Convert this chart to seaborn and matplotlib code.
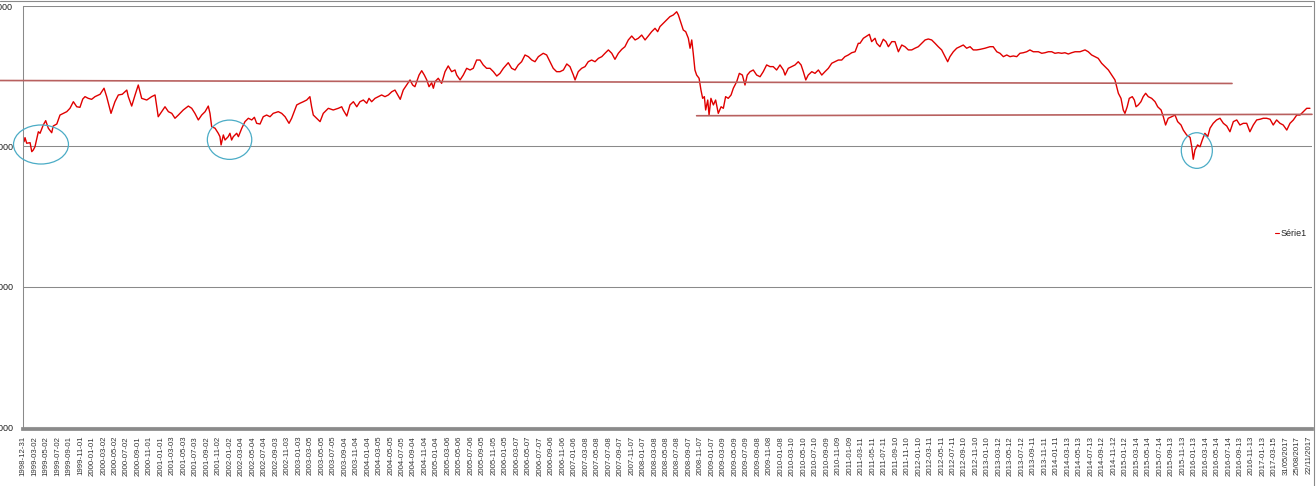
import matplotlib.pyplot as plt
import numpy as np
import seaborn as sns
import pandas as pd
from matplotlib.patches import Ellipse
from matplotlib.lines import Line2D

# category axis: one category per row of the sheet, a label every 61 rows
n_rows = 6848
tick_labels = list(pd.date_range('1998-12-31', periods=110, freq='61D').strftime('%Y-%m-%d'))
tick_labels += ['31/05/2017', '25/08/2017', '22/11/2017']
y_ticks = [1000, 2000, 3000, 4000]

# row index and value of the series
day_index = [
    4, 9, 18, 36, 45, 53, 62, 80, 89, 106, 119, 133, 151, 159, 178, 195, 213, 231, 248, 266,
    284, 301, 316, 328, 345, 363, 381, 408, 429, 443, 466, 487, 505, 526, 550, 558, 576, 594, 611, 629,
    656, 682, 700, 717, 735, 753, 771, 789, 806, 824, 850, 877, 895, 912, 930, 948, 966, 983, 992, 1001,
    1019, 1036,
    1045, 1051, 1063, 1072, 1089, 1098, 1107, 1116, 1134, 1143, 1161, 1178, 1196, 1214, 1228, 1240, 1258, 1275, 1293, 1311,
    1328, 1355, 1373, 1391, 1412, 1426, 1453, 1470, 1488, 1506, 1523, 1532, 1541, 1559, 1577, 1594, 1621, 1647, 1674, 1692,
    1700, 1719, 1736, 1754, 1772, 1789, 1807, 1825, 1837, 1851, 1869, 1886, 1904, 1922, 1940, 1958, 1975, 1990, 2003, 2019,
    2037, 2055, 2069, 2081, 2094, 2103, 2117, 2131, 2144, 2156, 2170, 2179,
    2188, 2205, 2223, 2241, 2258, 2276, 2294, 2303, 2321, 2338, 2356, 2374, 2391, 2409, 2427, 2444, 2462, 2480, 2498, 2516,
    2533, 2551, 2577, 2595, 2613, 2630, 2648, 2666, 2684, 2702, 2719, 2737, 2763, 2781, 2799, 2816, 2834, 2852, 2870, 2888,
    2905, 2923, 2932, 2949, 2967, 2985, 3002, 3020, 3038, 3056, 3074, 3091, 3109, 3127, 3144, 3162, 3180, 3197, 3215, 3233,
    3251, 3268, 3286, 3304, 3321,
    3339, 3357, 3371, 3383, 3401, 3419, 3436, 3454, 3472, 3481, 3495, 3507, 3520, 3534, 3543, 3552, 3560, 3569, 3578, 3591,
    3601, 3610, 3619, 3626, 3637, 3644, 3654, 3667, 3679, 3693, 3708, 3720, 3732, 3746, 3761, 3773, 3791, 3805, 3821, 3835,
    3847, 3862, 3879, 3897, 3915, 3932, 3950, 3968, 3985, 4003, 4021, 4039, 4048, 4065, 4083, 4101, 4118, 4133, 4145, 4158,
    4171, 4190, 4207, 4225, 4243, 4260, 4278, 4296, 4313, 4331, 4349, 4366, 4384, 4402, 4420, 4437,
    4446, 4464, 4482, 4496, 4508, 4526, 4535, 4552, 4570, 4584, 4597, 4615, 4632, 4650, 4668, 4685, 4703, 4721, 4738, 4756,
    4774, 4792, 4809, 4827, 4845, 4862, 4880, 4898, 4912, 4924, 4942, 4960, 4977, 4995, 5013, 5031, 5048, 5066, 5084, 5110,
    5137, 5154, 5173, 5190, 5208, 5226, 5243, 5261, 5279, 5296, 5314, 5332, 5349, 5367, 5394, 5412, 5429, 5447, 5465, 5482,
    5500, 5518, 5535, 5553, 5571, 5589, 5606,
    5615, 5642, 5659, 5677, 5695, 5712, 5730, 5748, 5766, 5784, 5801, 5810, 5819, 5833, 5845, 5854, 5866, 5877, 5893, 5904,
    5913, 5925, 5939, 5951, 5964, 5978, 5996, 6014, 6028, 6046, 6058, 6070, 6084, 6102, 6120, 6134, 6152, 6164, 6182, 6200,
    6209, 6217, 6226, 6240, 6253, 6265, 6279, 6294, 6306, 6323, 6341, 6359, 6377, 6395, 6412, 6430, 6448, 6465, 6483, 6501,
    6518, 6536, 6554, 6572, 6589, 6607, 6625, 6642, 6660, 6678, 6695, 6714, 6731, 6749, 6767, 6784, 6802, 6820, 6837,
]
serie1 = [
    3033, 3062, 3022, 3026, 2962, 2974, 2997, 3104, 3093, 3152, 3183, 3129, 3097, 3145, 3159, 3223, 3235, 3247, 3271, 3318,
    3282, 3278, 3337, 3354, 3342, 3335, 3354, 3371, 3414, 3354, 3235, 3318, 3366, 3371, 3401, 3354, 3287, 3366, 3437, 3342,
    3330, 3354, 3366, 3211, 3247, 3282, 3247, 3235, 3200, 3223, 3259, 3287, 3271, 3235, 3188, 3223, 3247, 3287, 3235, 3140,
    3129, 3093,
    3069, 3010, 3081, 3045, 3069, 3093, 3045, 3069, 3093, 3069, 3129, 3176, 3200, 3188, 3207, 3164, 3159, 3211, 3223, 3211,
    3235, 3247, 3235, 3211, 3164, 3200, 3295, 3307, 3318, 3330, 3354, 3282, 3223, 3200, 3176, 3235, 3271, 3259, 3271, 3282,
    3259, 3216, 3295, 3318, 3282, 3318, 3330, 3307, 3342, 3318, 3342, 3354, 3366, 3354, 3366, 3389, 3401, 3366, 3335, 3401,
    3437, 3473, 3437, 3425, 3473, 3508, 3539, 3508, 3473, 3425, 3453, 3414,
    3461, 3485, 3449, 3532, 3573, 3532, 3544, 3508, 3473, 3508, 3556, 3544, 3556, 3615, 3615, 3580, 3556, 3556, 3532, 3501,
    3520, 3556, 3596, 3556, 3544, 3580, 3603, 3651, 3639, 3615, 3603, 3639, 3663, 3651, 3603, 3556, 3532, 3532, 3544, 3587,
    3568, 3508, 3473, 3532, 3556, 3568, 3603, 3615, 3603, 3627, 3639, 3663, 3687, 3663, 3620, 3663, 3691, 3710, 3758, 3786,
    3758, 3770, 3793, 3758, 3786,
    3817, 3841, 3817, 3853, 3877, 3900, 3924, 3936, 3959, 3936, 3877, 3829, 3817, 3770, 3699, 3758, 3663, 3544, 3508, 3485,
    3401, 3342, 3354, 3259, 3330, 3223, 3342, 3295, 3330, 3235, 3282, 3271, 3354, 3342, 3366, 3414, 3461, 3520, 3508, 3437,
    3508, 3532, 3544, 3508, 3496, 3532, 3580, 3568, 3568, 3544, 3580, 3544, 3508, 3556, 3568, 3580, 3603, 3580, 3532, 3473,
    3508, 3532, 3520, 3544, 3508, 3532, 3556, 3592, 3603, 3615, 3615, 3639, 3651, 3667, 3674, 3734,
    3734, 3770, 3786, 3798, 3746, 3770, 3734, 3710, 3763, 3746, 3710, 3746, 3746, 3674, 3722, 3710, 3687, 3687, 3699, 3710,
    3734, 3758, 3765, 3758, 3734, 3710, 3687, 3639, 3603, 3639, 3674, 3699, 3710, 3722, 3699, 3710, 3687, 3687, 3691, 3699,
    3710, 3710, 3674, 3663, 3639, 3651, 3639, 3644, 3639, 3663, 3667, 3674, 3687, 3674, 3674, 3663, 3667, 3674, 3674, 3663,
    3667, 3663, 3667, 3658, 3667, 3674, 3674,
    3674, 3687, 3674, 3651, 3639, 3627, 3592, 3568, 3544, 3508, 3473, 3425, 3378, 3342, 3259, 3235, 3282, 3342, 3354, 3330,
    3282, 3295, 3318, 3354, 3378, 3354, 3342, 3318, 3282, 3259, 3211, 3152, 3200, 3211, 3223, 3176, 3152, 3116, 3081, 3064,
    2997, 2908, 2974, 3010, 2997, 3045, 3093, 3069, 3129, 3164, 3188, 3200, 3164, 3145, 3104, 3176, 3188, 3152, 3164, 3164,
    3104, 3152, 3188, 3193, 3200, 3200, 3193, 3152, 3188, 3164, 3152, 3116, 3164, 3188, 3223, 3223, 3247, 3271, 3271,
]

# hand drawn marks on the sheet: two lines and three circles
line_high_x = [-124, 6423]
line_high_y = [3469, 3448]
line_low_x = [3578, 6848]
line_low_y = [3218, 3228]
circle_x = [94, 1096, 6236]
circle_y = [3013, 3047, 2970]
circle_w = [292, 236, 165]
circle_h = [278, 280, 254]

sns.set_style('white')
plt.rcParams['font.family'] = ['Liberation Sans', 'DejaVu Sans']

df = pd.DataFrame({'row': day_index, 'Série1': serie1})

fig = plt.figure(figsize=(13.16, 4.86), dpi=100)
ax = fig.add_axes([23.3 / 1316, 59 / 486, (1312 - 23.3) / 1316, 421 / 486])

sns.lineplot(data=df, x='row', y='Série1', ax=ax, color='#e00000',
             linewidth=1.0, label='Série1', legend=False)

ax.set_xlim(0, n_rows)
ax.set_ylim(1000, 4000)
ax.set_yticks(y_ticks)
ax.set_yticklabels([str(v) for v in y_ticks])
ax.set_xticks(np.arange(len(tick_labels)) * 61)
ax.set_xticklabels(tick_labels)
ax.set_xlabel('')
ax.set_ylabel('')

ax.yaxis.grid(True, color='#8a8a8a', linewidth=0.75)
ax.set_axisbelow(True)
ax.tick_params(axis='y', length=2.9, width=0.75, color='#8a8a8a', pad=4.3,
               labelsize=6.5, labelcolor='#222222')
ax.tick_params(axis='x', length=0, pad=4.8, labelsize=5.6, labelcolor='#333333',
               labelrotation=90)
for lbl in ax.get_xticklabels():
    lbl.set_rotation(90)
    lbl.set_ha('center')
    lbl.set_va('top')
for s in ['top', 'right']:
    ax.spines[s].set_visible(False)
ax.spines['left'].set_color('#8a8a8a')
ax.spines['left'].set_linewidth(0.75)
ax.spines['bottom'].set_color('#8a8a8a')
ax.spines['bottom'].set_linewidth(2.7)
ax.spines['bottom'].set_position(('outward', 1.6))

ax.plot(line_high_x, line_high_y, color='#b8605f', linewidth=1.2, clip_on=False, zorder=5)
ax.plot(line_low_x, line_low_y, color='#b8605f', linewidth=1.2, clip_on=False, zorder=5)
for cx, cy, w, h in zip(circle_x, circle_y, circle_w, circle_h):
    ax.add_patch(Ellipse((cx, cy), w, h, fill=False, edgecolor='#4bacc6',
                         linewidth=0.9, clip_on=False, zorder=6))

handle = Line2D([], [], color='#e00000', linewidth=0.8)
fig.legend([handle], ['Série1'], loc='center left',
           bbox_to_anchor=(1275 / 1316, 1 - 234 / 486), frameon=False,
           handlelength=0.45, handletextpad=0.15, borderpad=0, borderaxespad=0,
           prop={'size': 6.5})

# chart area border
fig.add_artist(Line2D([0, 1313.5 / 1316], [1 - 0.8 / 486] * 2, color='#8a8a8a', linewidth=0.8))
fig.add_artist(Line2D([1313.5 / 1316] * 2, [0, 1 - 0.8 / 486], color='#8a8a8a', linewidth=0.8))

plt.savefig('out.png', dpi=100)
